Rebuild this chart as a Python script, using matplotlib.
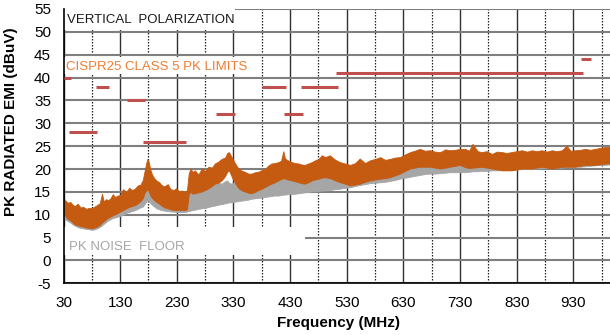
import matplotlib
matplotlib.use("Agg")
import matplotlib.pyplot as plt
from matplotlib.patches import Rectangle

plt.rcParams['font.family'] = ['Liberation Sans', 'DejaVu Sans']
plt.rcParams['axes.unicode_minus'] = False

# measured emission trace (upper / lower envelope, dBuV)
freq = [30, 34, 38, 42, 46, 50, 55, 60, 65, 70, 75, 80, 85, 89, 94, 98, 101, 105,
        109, 113, 117, 121, 126, 130, 135, 141, 146, 151, 156, 161, 166, 170, 173,
        176, 178, 180, 183, 186, 190, 194, 199, 203, 208, 214, 219, 224, 229, 234,
        239, 244, 248, 251, 254, 258, 262, 268, 274, 280, 286, 292, 297, 303, 309,
        315, 319, 322, 326, 330, 335, 339, 345, 350, 356, 362, 368, 374, 380, 386,
        392, 397, 403, 409, 414, 418, 421, 426, 433, 439, 445, 450, 456, 462, 468,
        474, 480, 486, 492, 500, 510, 518, 527, 536, 545, 553, 562, 571, 580, 589,
        598, 606, 615, 624, 633, 642, 650, 659, 668, 677, 686, 695, 704, 712, 721,
        730, 739, 746, 752, 761, 768, 777, 786, 795, 804, 812, 821, 830, 839, 848,
        857, 865, 874, 883, 892, 901, 910, 918, 925, 933, 942, 951, 960, 968, 977,
        986, 995, 1000]
emi_hi = [13.6, 13.0, 12.6, 12.8, 12.2, 11.9, 12.4, 11.6, 11.7, 11.3, 11.5, 11.4,
          11.8, 12.1, 12.5, 14.6, 12.9, 13.4, 13.2, 13.6, 14.5, 13.9, 14.2, 14.3,
          15.6, 15.0, 15.9, 15.4, 15.7, 16.4, 16.6, 17.6, 19.5, 21.3, 22.2, 21.8,
          20.0, 18.9, 18.0, 17.5, 17.1, 16.5, 16.2, 16.7, 15.6, 15.4, 15.8, 15.1,
          15.3, 15.0, 15.4, 19.0, 20.1, 19.4, 19.7, 18.8, 20.1, 19.6, 20.5, 20.3,
          21.2, 21.6, 22.2, 22.5, 23.5, 23.7, 22.8, 21.9, 20.8, 20.1, 19.6, 19.4,
          19.0, 19.0, 19.3, 19.4, 19.8, 20.1, 20.8, 21.2, 21.3, 21.5, 21.8, 23.9,
          22.3, 21.9, 21.5, 21.3, 21.2, 21.0, 20.9, 21.2, 21.5, 21.9, 22.2, 23.0,
          22.6, 23.0, 22.0, 21.5, 21.2, 20.9, 21.3, 22.3, 21.3, 21.9, 22.2, 22.6,
          22.0, 22.2, 22.5, 22.6, 23.2, 23.7, 24.0, 24.4, 24.0, 24.1, 23.8, 23.7,
          24.3, 24.1, 24.2, 24.4, 24.4, 24.0, 25.5, 23.9, 23.7, 23.9, 23.3, 23.8,
          23.7, 23.5, 23.7, 23.9, 24.1, 23.8, 24.1, 23.9, 24.1, 23.8, 24.1, 23.9,
          24.1, 25.1, 24.0, 24.1, 24.2, 24.4, 24.2, 24.4, 24.6, 24.8, 24.8, 24.9]
emi_lo = [10.3, 9.6, 9.0, 8.8, 8.3, 7.9, 7.7, 7.5, 7.4, 7.2, 7.1, 7.0, 7.2, 7.4,
          7.8, 8.3, 8.6, 9.0, 9.4, 9.6, 9.9, 10.1, 10.4, 10.7, 11.0, 11.4, 11.7,
          11.9, 12.1, 12.5, 13.0, 13.6, 14.8, 15.3, 15.6, 15.2, 14.3, 13.7, 13.2,
          12.8, 12.4, 12.0, 11.6, 11.4, 11.2, 11.0, 11.0, 11.0, 11.0, 11.0, 11.2,
          14.5, 15.0, 14.6, 14.7, 14.9, 15.1, 15.4, 15.8, 16.3, 16.8, 17.0, 17.5,
          18.4, 19.4, 19.7, 18.6, 17.5, 16.5, 15.8, 15.3, 15.1, 14.8, 14.7, 15.0,
          15.4, 15.7, 16.1, 16.5, 16.8, 17.1, 17.5, 17.8, 18.0, 17.9, 17.7, 17.5,
          17.3, 17.1, 16.9, 16.8, 17.1, 17.5, 17.7, 17.9, 18.1, 18.2, 18.0, 17.5,
          17.1, 16.8, 16.4, 16.6, 16.8, 17.2, 17.5, 17.7, 17.9, 18.0, 18.2, 18.6,
          19.0, 19.6, 20.1, 20.3, 20.5, 20.5, 20.5, 20.3, 20.1, 20.3, 20.5, 20.7,
          20.9, 20.4, 20.2, 20.3, 20.4, 20.5, 20.3, 20.1, 19.9, 19.7, 19.7, 19.7,
          19.9, 20.1, 20.1, 20.1, 20.3, 20.5, 20.3, 20.1, 20.3, 20.5, 20.5, 20.5,
          20.5, 20.7, 20.9, 20.9, 20.9, 21.0, 21.2, 21.2, 21.3]

# noise floor trace (upper / lower envelope, dBuV)
floor_hi = [10.9, 10.3, 9.6, 9.3, 8.9, 8.5, 8.2, 8.0, 7.9, 7.7, 7.6, 7.5, 7.7,
            7.9, 8.3, 8.8, 9.1, 9.6, 9.9, 10.1, 10.4, 10.6, 10.9, 11.2, 11.5,
            11.9, 12.2, 12.4, 12.7, 13.0, 13.8, 15.0, 16.0, 16.3, 16.2, 15.8,
            15.0, 14.3, 13.8, 13.3, 12.9, 12.5, 12.1, 11.9, 11.7, 11.5, 11.5,
            11.4, 11.4, 11.4, 11.6, 15.0, 15.5, 15.2, 15.3, 15.5, 15.7, 16.0,
            16.3, 16.6, 17.0, 17.0, 16.8, 17.3, 17.5, 17.0, 16.8, 17.0, 16.8,
            16.2, 15.8, 15.6, 15.3, 15.2, 15.5, 15.8, 16.1, 16.5, 16.8, 17.1,
            17.4, 17.8, 18.0, 18.2, 18.1, 17.9, 17.7, 17.5, 17.3, 17.2, 17.1,
            17.3, 17.6, 17.8, 18.0, 18.2, 18.3, 18.2, 17.8, 17.6, 17.4, 17.3,
            17.5, 17.6, 17.8, 18.0, 18.2, 18.4, 18.6, 18.9, 19.2, 19.6, 20.2,
            20.8, 21.2, 21.3, 21.2, 21.1, 20.9, 20.7, 20.8, 20.9, 21.1, 21.3,
            21.0, 20.8, 20.9, 21.0, 21.0, 20.9, 20.7, 20.6, 20.5, 20.5, 20.5,
            20.6, 20.7, 20.7, 20.8, 20.9, 21.0, 20.9, 20.9, 21.0, 21.1, 21.1,
            21.1, 21.2, 21.3, 21.4, 21.4, 21.5, 21.6, 21.7, 21.7, 21.8]
floor_lo = [9.2, 8.9, 8.6, 8.3, 7.9, 7.6, 7.3, 7.1, 7.0, 6.9, 6.8, 6.7, 6.8, 7.0,
            7.3, 7.7, 8.0, 8.4, 8.8, 9.0, 9.3, 9.4, 9.6, 9.7, 10.0, 10.4, 10.6,
            10.8, 11.0, 11.3, 11.6, 11.8, 12.3, 12.8, 13.2, 13.0, 12.6, 12.2,
            11.8, 11.4, 11.2, 11.0, 10.9, 10.8, 10.7, 10.7, 10.6, 10.6, 10.6,
            10.6, 10.7, 10.8, 10.9, 11.0, 11.1, 11.3, 11.4, 11.5, 11.7, 11.9,
            12.0, 12.2, 12.3, 12.5, 12.6, 12.7, 12.7, 12.8, 12.9, 13.0, 13.1,
            13.2, 13.3, 13.5, 13.6, 13.7, 13.8, 13.9, 14.0, 14.1, 14.2, 14.2,
            14.3, 14.4, 14.4, 14.5, 14.5, 14.6, 14.7, 14.8, 14.9, 15.0, 15.1,
            15.1, 15.2, 15.3, 15.3, 15.4, 15.6, 15.7, 15.9, 16.0, 16.3, 16.5,
            16.7, 16.9, 17.0, 17.1, 17.2, 17.4, 17.6, 17.9, 18.1, 18.3, 18.5,
            18.7, 18.9, 19.0, 19.0, 19.1, 19.2, 19.3, 19.3, 19.3, 19.3, 19.4,
            19.5, 19.5, 19.6, 19.6, 19.7, 19.7, 19.8, 19.8, 19.8, 19.9, 20.0,
            20.0, 20.1, 20.1, 20.2, 20.2, 20.2, 20.3, 20.3, 20.4, 20.4, 20.5,
            20.5, 20.6, 20.7, 20.8, 20.9, 20.9, 21.0, 21.0]

# CISPR25 class 5 peak limit bands: start, stop, level
lim_start = [30, 40, 87, 142, 171, 299, 380, 420, 449, 511, 944]
lim_stop = [43, 90, 110, 174, 247, 332, 422, 452, 514, 947, 961]
lim_level = [40, 28, 38, 35, 26, 32, 38, 32, 38, 41, 44]

fig = plt.figure(figsize=(6.1, 3.35), dpi=100)
ax = fig.add_axes([63.5 / 610, 51.7 / 335, 549.5 / 610, 274.3 / 335])

ax.fill_between(freq, floor_lo, floor_hi, color='#A6A6A6', lw=0.6,
                edgecolor='#A6A6A6', zorder=2)
ax.fill_between(freq, emi_lo, emi_hi, color='#C55A11', lw=0.6,
                edgecolor='#C55A11', zorder=2.1)
ax.hlines(lim_level, lim_start, lim_stop, color='#C0504D', lw=2.2, zorder=4)

ax.set_xlim(30, 1000)
ax.set_ylim(-5, 55)
ax.set_xticks(range(30, 931, 100))
ax.set_xticks(range(80, 1000, 100), minor=True)
ax.set_yticks(range(-5, 56, 5))
ax.set_axisbelow(True)
ax.grid(which='major', axis='x', color='#303030', lw=1.0)
ax.grid(which='minor', axis='x', color='#202020', lw=0.9, ls=(0, (1.2, 1.2)))
ax.grid(which='major', axis='y', color='#7F7F7F', lw=1.5)
ax.tick_params(which='both', length=0, labelsize=11, pad=9)
for side in ['top', 'right']:
    ax.spines[side].set_visible(False)
for side in ['left', 'bottom']:
    ax.spines[side].set_color('black')
    ax.spines[side].set_linewidth(1.2)

ax.set_xlabel('Frequency (MHz)', fontsize=11, fontweight='bold')
ax.xaxis.set_label_coords(0.5, -0.12)
ax.set_ylabel('PK RADIATED EMI (dBuV)', fontsize=11, fontweight='bold')
ax.yaxis.set_label_coords(-0.082, 0.59)

# white text boxes that hide the grid behind the notes
for x0, y0, w, h in [(30, 50.4, 303, 4.6), (30, 40.7, 303, 3.8), (30, 1.2, 426, 6.1)]:
    ax.add_patch(Rectangle((x0, y0), w, h, facecolor='white', edgecolor='none',
                           zorder=1.5))
ax.text(36, 52.5, 'VERTICAL  POLARIZATION', fontsize=9.5, color='#1A1A1A',
        va='center', ha='left', zorder=3)
ax.text(35, 42.3, 'CISPR25 CLASS 5 PK LIMITS', fontsize=9.5, color='#ED7D31',
        va='center', ha='left', zorder=3)
ax.text(39, 3.0, 'PK NOISE  FLOOR', fontsize=9.5, color='#A6A6A6',
        va='center', ha='left', zorder=3)

fig.savefig('out.png', dpi=100)
